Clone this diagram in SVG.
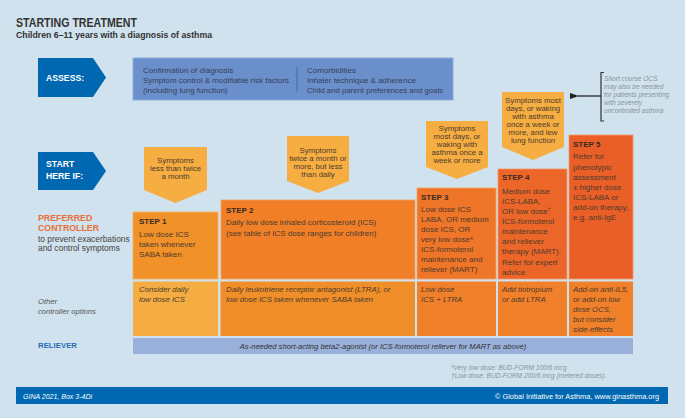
<svg xmlns="http://www.w3.org/2000/svg" width="685" height="418" viewBox="0 0 685 418">
<style>
text{font-family:"Liberation Sans",Arial,sans-serif;}
.t{font-size:8px;fill:#4e3b2c;}
.tb{font-size:8px;font-weight:bold;fill:#3b2a1f;}
.sym{font-size:7.8px;fill:#4e3b2c;text-anchor:middle;}
.it{font-size:7.8px;font-style:italic;fill:#4e3b2c;}
.as{font-size:8px;fill:#33415a;}
.chev{fill:#0067b1;}
.chevt{font-size:8.7px;font-weight:bold;fill:#ffffff;}
.symbox{fill:#f6ae42;}
.gray{font-size:6.6px;font-style:italic;fill:#8a949c;}
</style>
<defs>
<marker id="ah" markerWidth="9" markerHeight="6" refX="1" refY="3" orient="auto" markerUnits="userSpaceOnUse">
<path d="M9,0 L0,3 L9,6 Z" fill="#222"/>
</marker>
</defs>
<rect x="0" y="0" width="685" height="418" fill="#d0e2ed"/>
<g id="title">
<text x="16" y="27" style="font-size:13px;font-weight:bold;fill:#333" textLength="121" lengthAdjust="spacingAndGlyphs">STARTING TREATMENT</text>
<text x="16" y="38" style="font-size:9.5px;font-weight:bold;fill:#333" textLength="196" lengthAdjust="spacingAndGlyphs">Children 6–11 years with a diagnosis of asthma</text>
</g>
<g id="assess">
<polygon class="chev" points="38,58 93,58 106,77.5 93,97 38,97"/>
<text class="chevt" x="46" y="81">ASSESS:</text>
</g>
<g id="assess-box">
<rect x="133" y="58" width="320" height="42" fill="#6b8fca" stroke="#8aaddc" stroke-width="1"/>
<line x1="297" y1="67" x2="297" y2="92" stroke="#3e6cb0" stroke-width="1"/>
<text class="as" x="143" y="73">Confirmation of diagnosis</text>
<text class="as" x="143" y="83" textLength="146" lengthAdjust="spacingAndGlyphs">Symptom control &amp; modifiable risk factors</text>
<text class="as" x="143" y="93">(including lung function)</text>
<text class="as" x="307" y="73">Comorbidities</text>
<text class="as" x="307" y="83">Inhaler technique &amp; adherence</text>
<text class="as" x="307" y="93" textLength="136" lengthAdjust="spacingAndGlyphs">Child and parent preferences and goals</text>
</g>
<g id="start">
<polygon class="chev" points="38,152 93,152 106,171 93,190 38,190"/>
<text class="chevt" x="46" y="167">START</text>
<text class="chevt" x="46" y="179">HERE IF:</text>
</g>
<g id="ocs-note">
<text class="gray" x="604" y="81">Short course OCS</text>
<text class="gray" x="604" y="89">may also be needed</text>
<text class="gray" x="604" y="97">for patients presenting</text>
<text class="gray" x="604" y="105">with severely</text>
<text class="gray" x="604" y="113">uncontrolled asthma</text>
</g>
<g id="connectors">
<path d="M604,72.5 L601,72.5 L601,121 L604,121" fill="none" stroke="#333" stroke-width="1.2"/>
<line x1="601" y1="96" x2="578" y2="96" stroke="#222" stroke-width="1.3" marker-end="url(#ah)"/>
</g>
<g id="symptoms-1">
<polygon class="symbox" points="144,147 207,147 207,190 175.5,203 144,190"/>
<text class="sym" x="175.5" y="163">Symptoms</text>
<text class="sym" x="175.5" y="171">less than twice</text>
<text class="sym" x="175.5" y="179">a month</text>
</g>
<g id="symptoms-2">
<polygon class="symbox" points="287,136 349,136 349,181 318,193 287,181"/>
<text class="sym" x="318" y="153">Symptoms</text>
<text class="sym" x="318" y="161">twice a month or</text>
<text class="sym" x="318" y="169">more, but less</text>
<text class="sym" x="318" y="177">than daily</text>
</g>
<g id="symptoms-3">
<polygon class="symbox" points="426,121 488,121 488,167 457,179 426,167"/>
<text class="sym" x="457" y="131">Symptoms</text>
<text class="sym" x="457" y="139">most days, or</text>
<text class="sym" x="457" y="147">waking with</text>
<text class="sym" x="457" y="155">asthma once a</text>
<text class="sym" x="457" y="163">week or more</text>
</g>
<g id="symptoms-4">
<polygon class="symbox" points="502,92 564,92 564,147 533,160 502,147"/>
<text class="sym" x="533" y="103">Symptoms most</text>
<text class="sym" x="533" y="111">days, or waking</text>
<text class="sym" x="533" y="119">with asthma</text>
<text class="sym" x="533" y="127">once a week or</text>
<text class="sym" x="533" y="135">more, and lew</text>
<text class="sym" x="533" y="143">lung function</text>
</g>
<g id="left-labels">
<text x="38" y="221" style="font-size:8.8px;font-weight:bold;fill:#e8703a">PREFERRED</text>
<text x="38" y="231" style="font-size:8.8px;font-weight:bold;fill:#e8703a">CONTROLLER</text>
<text x="38" y="241.5" style="font-size:8.4px;fill:#444">to prevent exacerbations</text>
<text x="38" y="251" style="font-size:8.4px;fill:#444">and control symptoms</text>
<text x="38" y="304" style="font-size:7.6px;font-style:italic;fill:#555">Other</text>
<text x="38" y="314" style="font-size:7.6px;font-style:italic;fill:#555">controller options</text>
<text x="38" y="347.5" style="font-size:7.8px;font-weight:bold;fill:#1f6fb5">RELIEVER</text>
</g>
<g id="step-1">
<rect x="133" y="212" width="85" height="67" fill="#f0912a" stroke="#f6b15a" stroke-width="0.8"/>
<text class="tb" x="139" y="223.5">STEP 1</text>
<text class="t" x="139" y="236.5">Low dose ICS</text>
<text class="t" x="139" y="247">taken whenever</text>
<text class="t" x="139" y="257">SABA taken</text>
</g>
<g id="step-2">
<rect x="221" y="200" width="194" height="79" fill="#f07f28" stroke="#f6a060" stroke-width="0.8"/>
<text class="tb" x="226" y="212.5">STEP 2</text>
<text class="t" x="226" y="224.5">Daily low dose inhaled corticosteroid (ICS)</text>
<text class="t" x="226" y="236">(see table of ICS dose ranges for children)</text>
</g>
<g id="step-3">
<rect x="417" y="188" width="79" height="91" fill="#ef7528" stroke="#f6a060" stroke-width="0.8"/>
<text class="tb" x="421" y="199.5">STEP 3</text>
<text class="t" x="421" y="212">Low dose ICS</text>
<text class="t" x="421" y="222">LABA, OR medium</text>
<text class="t" x="421" y="232">dose ICS, OR</text>
<text class="t" x="421" y="242">very low dose*</text>
<text class="t" x="421" y="252">ICS-formoterol</text>
<text class="t" x="421" y="262">maintenance and</text>
<text class="t" x="421" y="272">reliever (MART)</text>
</g>
<g id="step-4">
<rect x="498" y="169" width="69" height="110" fill="#eb6628" stroke="#f29a6a" stroke-width="0.8"/>
<text class="tb" x="502" y="179.5">STEP 4</text>
<text class="t" x="502" y="194">Medium dose</text>
<text class="t" x="502" y="204">ICS-LABA,</text>
<text class="t" x="502" y="214">OR low dose<tspan dy="-3" font-size="5">†</tspan></text>
<text class="t" x="502" y="224">ICS-formoterol</text>
<text class="t" x="502" y="234">maintenance</text>
<text class="t" x="502" y="244">and reliever</text>
<text class="t" x="502" y="254">therapy (MART).</text>
<text class="t" x="502" y="264.5">Refer for expert</text>
<text class="t" x="502" y="274.5">advice</text>
</g>
<g id="step-5">
<rect x="569" y="135" width="64" height="144" fill="#e95f27" stroke="#f29a6a" stroke-width="0.8"/>
<text class="tb" x="573" y="146.5">STEP 5</text>
<text class="t" x="573" y="159">Refer for</text>
<text class="t" x="573" y="169.5">phenotypic</text>
<text class="t" x="573" y="179.5">assessment</text>
<text class="t" x="573" y="189.5">± higher dose</text>
<text class="t" x="573" y="200">ICS-LABA or</text>
<text class="t" x="573" y="210">add-on therapy,</text>
<text class="t" x="573" y="220">e.g. anti-IgE</text>
</g>
<g id="other-1">
<rect x="133" y="281.5" width="85" height="54.5" fill="#f5ad43"/>
<text class="it" x="139" y="292">Consider daily</text>
<text class="it" x="139" y="302">low dose ICS</text>
</g>
<g id="other-2">
<rect x="220.5" y="281.5" width="194.5" height="54.5" fill="#f08f29"/>
<text class="it" x="226" y="292">Daily leukotriene receptor antagonist (LTRA), or</text>
<text class="it" x="226" y="302">low dose ICS taken whenever SABA taken</text>
</g>
<g id="other-3">
<rect x="417" y="281.5" width="79" height="54.5" fill="#f0802a"/>
<text class="it" x="421" y="292">Low dose</text>
<text class="it" x="421" y="302">ICS + LTRA</text>
</g>
<g id="other-4">
<rect x="498" y="281.5" width="69" height="54.5" fill="#f0802a"/>
<text class="it" x="502" y="292">Add tiotropium</text>
<text class="it" x="502" y="302">or add LTRA</text>
</g>
<g id="other-5">
<rect x="569" y="281.5" width="64" height="54.5" fill="#f0802a"/>
<text class="it" x="573" y="292">Add-on anti-IL5,</text>
<text class="it" x="573" y="302">or add-on low</text>
<text class="it" x="573" y="312">dose OCS,</text>
<text class="it" x="573" y="322">but consider</text>
<text class="it" x="573" y="332">side-effects</text>
</g>
<g id="reliever">
<rect x="133" y="338" width="500" height="16" fill="#98b0da"/>
<text x="383" y="349" text-anchor="middle" style="font-size:7.6px;font-style:italic;fill:#333">As-needed short-acting beta2-agonist (or ICS-formoterol reliever for MART as above)</text>
</g>
<g id="footnotes">
<text class="gray" x="451" y="370">*Very low dose: BUD-FORM 100/6 mcg</text>
<text class="gray" x="451" y="378">†Low dose: BUD-FORM 200/6 mcg (metered doses).</text>
</g>
<g id="footer">
<rect x="16" y="387" width="652" height="17" fill="#0067b1"/>
<text x="23" y="398.5" style="font-size:7px;font-style:italic;fill:#fff">GINA 2021, Box 3-4Di</text>
<text x="659" y="398.5" text-anchor="end" style="font-size:7.4px;fill:#fff">© Global Initiative for Asthma, www.ginasthma.org</text>
</g>
</svg>
